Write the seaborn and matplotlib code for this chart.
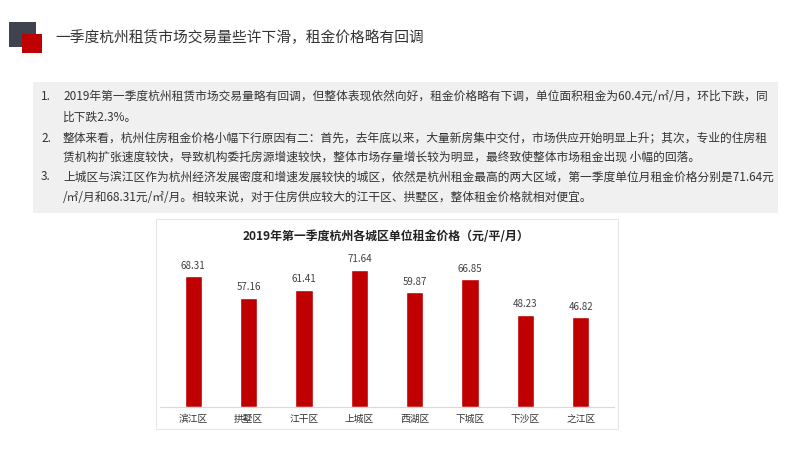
import matplotlib
matplotlib.use("Agg")
import matplotlib.pyplot as plt
from matplotlib.patches import Rectangle
import seaborn as sns
import pandas as pd

districts = ["滨江区", "拱墅区", "江干区", "上城区", "西湖区", "下城区", "下沙区", "之江区"]
prices = [68.31, 57.16, 61.41, 71.64, 59.87, 66.85, 48.23, 46.82]

page_title = "一季度杭州租赁市场交易量些许下滑，租金价格略有回调"
chart_title = "2019年第一季度杭州各城区单位租金价格（元/平/月）"
bullet_nums = ["1.", "2.", "3."]
bullet_lines = [
    ["2019年第一季度杭州租赁市场交易量略有回调，但整体表现依然向好，租金价格略有下调，单位面积租金为60.4元/㎡/月，环比下跌，同",
     "比下跌2.3%。"],
    ["整体来看，杭州住房租金价格小幅下行原因有二：首先，去年底以来，大量新房集中交付，市场供应开始明显上升；其次，专业的住房租",
     "赁机构扩张速度较快，导致机构委托房源增速较快，整体市场存量增长较为明显，最终致使整体市场租金出现 小幅的回落。"],
    ["上城区与滨江区作为杭州经济发展密度和增速发展较快的城区，依然是杭州租金最高的两大区域，第一季度单位月租金价格分别是71.64元",
     "/㎡/月和68.31元/㎡/月。相较来说，对于住房供应较大的江干区、拱墅区，整体租金价格就相对便宜。"],
]

sns.set_style("white")
plt.rcParams['font.family'] = ['Noto Sans CJK SC', 'DejaVu Sans']

W, H = 800, 450
fig = plt.figure(figsize=(8, 4.5), dpi=100)
fig.patch.set_facecolor("white")

def fx(x):
    return x / W

def fy(y):
    return 1 - y / H

def rect(x0, y0, x1, y1, **kw):
    fig.patches.append(Rectangle((fx(x0), fy(y1)), fx(x1 - x0), (y1 - y0) / H,
                                 transform=fig.transFigure, figure=fig, zorder=-1, **kw))

# header icon
rect(9, 22, 36, 47, facecolor="#3f4350", edgecolor="none")
rect(22, 34, 42, 53, facecolor="#c00000", edgecolor="none")
fig.text(fx(55), fy(38), page_title, fontsize=10.6, color="#333333", va="center", ha="left")

# grey text box
rect(33, 82, 778, 213, facecolor="#f0f0f0", edgecolor="none")
line_y = [[97, 117], [138, 157], [177, 197]]
for num, lines, ys in zip(bullet_nums, bullet_lines, line_y):
    fig.text(fx(41), fy(ys[0]), num, fontsize=8.5, color="#333333", va="center", ha="left")
    for ln, yy in zip(lines, ys):
        fig.text(fx(63), fy(yy), ln, fontsize=8.45, color="#333333", va="center", ha="left")

# chart panel
rect(156, 219, 618, 429, facecolor="white", edgecolor="#e6e6e6", linewidth=0.8)
fig.text(fx(386), fy(237), chart_title, fontsize=8.6, fontweight="bold",
         color="#222222", va="center", ha="center")

ax = fig.add_axes([fx(160), fy(407), fx(614 - 160), (407 - 254) / H])
ax.set_zorder(2)
df = pd.DataFrame({"district": districts, "price": prices})
sns.barplot(data=df, x="district", y="price", color="#c00000", width=0.31,
            saturation=1, ax=ax)
ax.set_xlim(-0.6, len(districts) - 0.4)
ax.set_ylim(0, 80)
ax.set_xlabel("")
ax.set_ylabel("")
ax.set_yticks([])
ax.patch.set_alpha(0)
for s in ["top", "right", "left"]:
    ax.spines[s].set_visible(False)
ax.spines["bottom"].set_color("#d9d9d9")
ax.spines["bottom"].set_linewidth(0.8)
ax.tick_params(axis="x", length=0, labelsize=7, colors="#333333", pad=5)
ax.bar_label(ax.containers[0], fmt="%.2f", padding=4, fontsize=7, color="#404040")

fig.savefig("out.png", dpi=100, facecolor="white")
